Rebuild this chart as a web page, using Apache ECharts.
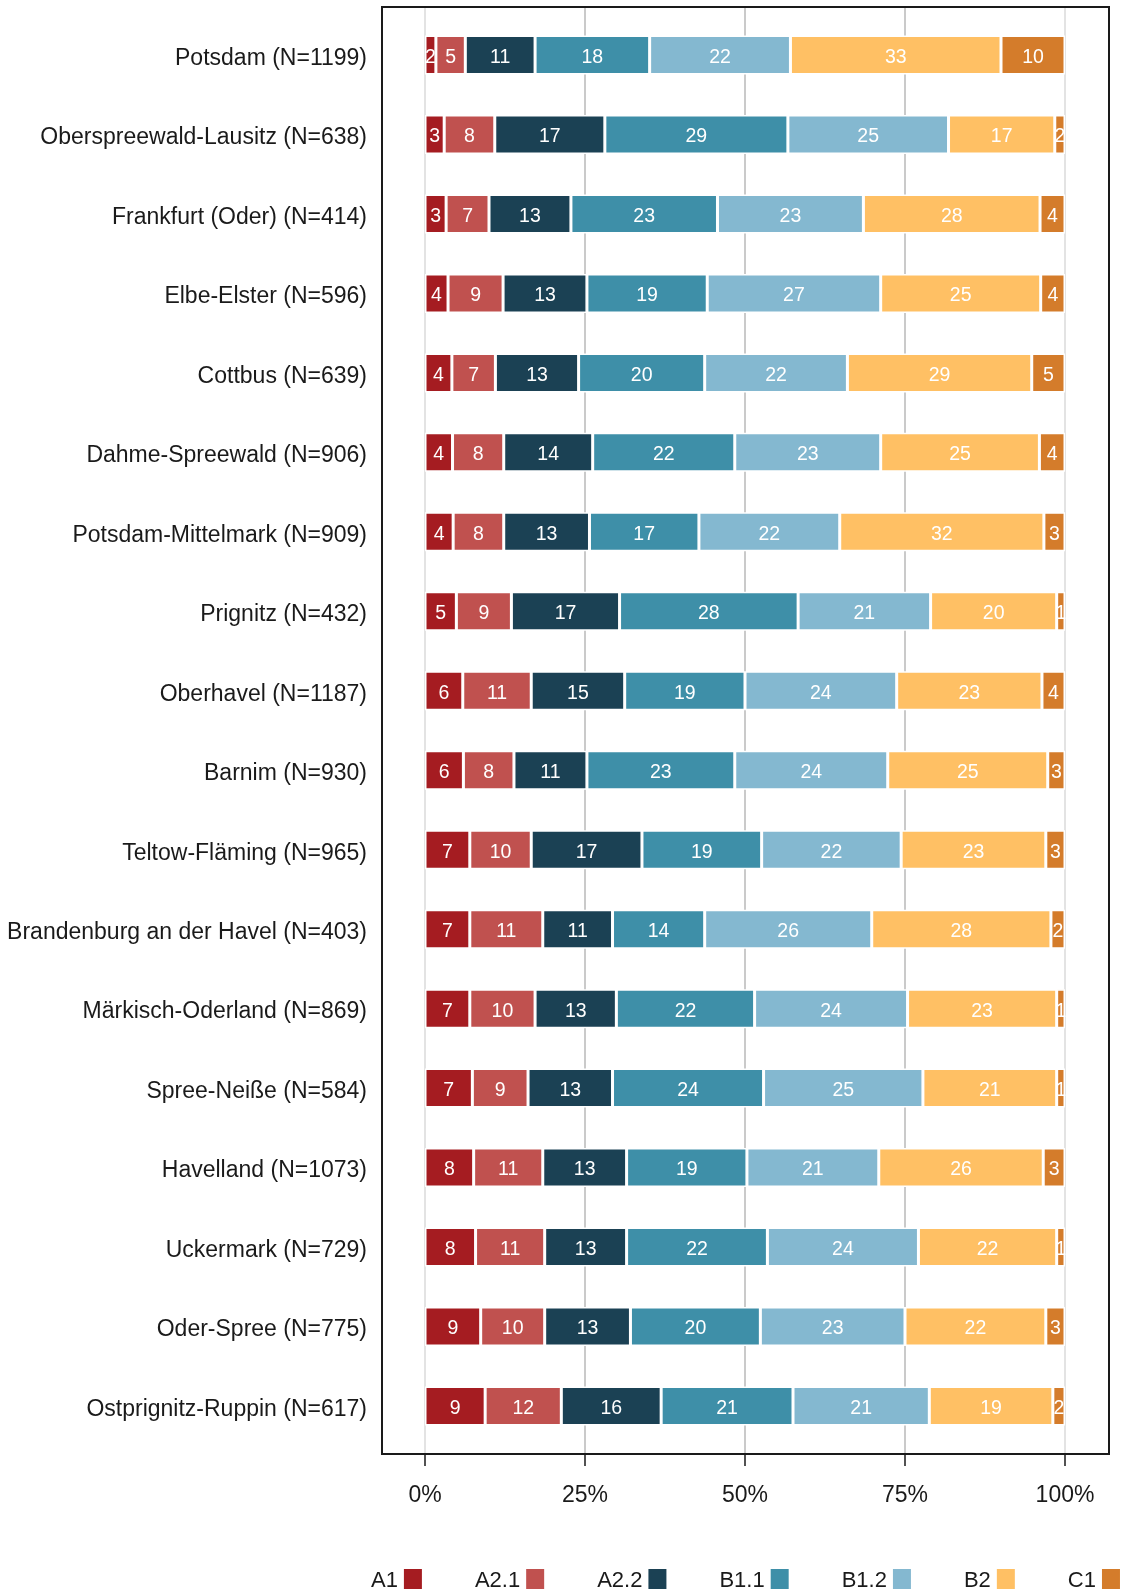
<!DOCTYPE html>
<html>
<head>
<meta charset="utf-8">
<script src="https://cdn.jsdelivr.net/npm/echarts@6/dist/echarts.min.js"></script>
<style>
html,body{margin:0;padding:0;background:#fff;}
#chart{width:1129px;height:1589px;}
</style>
</head>
<body>
<div id="chart"></div>
<script>
const categories = [
  'Potsdam (N=1199)', 'Oberspreewald-Lausitz (N=638)', 'Frankfurt (Oder) (N=414)',
  'Elbe-Elster (N=596)', 'Cottbus (N=639)', 'Dahme-Spreewald (N=906)',
  'Potsdam-Mittelmark (N=909)', 'Prignitz (N=432)', 'Oberhavel (N=1187)',
  'Barnim (N=930)', 'Teltow-Fläming (N=965)', 'Brandenburg an der Havel (N=403)',
  'Märkisch-Oderland (N=869)', 'Spree-Neiße (N=584)', 'Havelland (N=1073)',
  'Uckermark (N=729)', 'Oder-Spree (N=775)', 'Ostprignitz-Ruppin (N=617)'
];
const seriesNames = ['A1', 'A2.1', 'A2.2', 'B1.1', 'B1.2', 'B2', 'C1'];
const seriesColors = ['#a51c21', '#c0514f', '#1b4154', '#3e8fa8', '#84b8d0', '#ffc064', '#d47c2b'];
const A1   = [1.7, 3.0, 3.3, 3.6, 4.2, 4.3, 4.4, 4.9, 5.9, 6.0, 7.0, 7.0, 7.0, 7.4, 7.6, 7.9, 8.7, 9.4];
const A2_1 = [4.6, 7.9, 6.7, 8.6, 6.8, 8.0, 7.9, 8.6, 10.7, 7.9, 9.6, 11.4, 10.2, 8.7, 10.8, 10.8, 10.0, 11.9];
const A2_2 = [10.9, 17.2, 12.8, 13.1, 13.0, 13.9, 13.4, 16.9, 14.6, 11.4, 17.3, 10.9, 12.7, 13.2, 13.1, 12.8, 13.4, 15.6];
const B1_1 = [17.9, 28.6, 22.9, 18.8, 19.7, 22.2, 17.1, 27.9, 18.8, 23.1, 18.7, 14.4, 21.6, 23.6, 18.8, 22.0, 20.3, 20.6];
const B1_2 = [22.0, 25.1, 22.8, 27.1, 22.3, 22.8, 22.0, 20.7, 23.7, 23.9, 21.8, 26.1, 23.9, 24.9, 20.6, 23.6, 22.6, 21.3];
const B2   = [32.9, 16.6, 27.6, 25.0, 28.8, 24.8, 31.9, 19.7, 22.7, 25.0, 22.6, 28.0, 23.3, 20.9, 25.7, 21.6, 22.0, 19.3];
const C1   = [10.0, 1.6, 3.9, 3.8, 5.2, 4.0, 3.3, 1.3, 3.6, 2.7, 3.0, 2.2, 1.3, 1.3, 3.4, 1.3, 3.0, 1.9];
const seriesValues = [A1, A2_1, A2_2, B1_1, B1_2, B2, C1];

const FONT = 'Liberation Sans, Arial, sans-serif';
const chart = echarts.init(document.getElementById('chart'), null, {renderer: 'canvas'});

const series = seriesNames.map((name, i) => ({
  name: name,
  type: 'bar',
  stack: 'total',
  xAxisIndex: 1,
  yAxisIndex: 1,
  barWidth: 39,
  z: 3,
  data: seriesValues[i],
  itemStyle: {color: seriesColors[i], borderColor: '#ffffff', borderWidth: 1.5},
  label: {
    show: true,
    position: 'inside',
    offset: [0, 2.5],
    color: '#ffffff',
    fontSize: 19.5,
    fontFamily: FONT,
    formatter: p => String(Math.round(p.value))
  }
}));

const option = {
  animation: false,
  backgroundColor: '#ffffff',
  grid: [
    {left: 425, right: 64, top: 7, bottom: 135, show: false, containLabel: false},
    {left: 425, right: 64, top: 15.3, bottom: 143.3, show: false, containLabel: false},
    {left: 382, right: 20, top: 7, bottom: 135, show: true, borderColor: '#1a1a1a', borderWidth: 2, backgroundColor: 'transparent', z: 5}
  ],
  xAxis: [
    {
      gridIndex: 0, type: 'value', min: 0, max: 100, interval: 25, position: 'bottom',
      axisLine: {show: false},
      axisTick: {show: true, length: 12, lineStyle: {color: '#1a1a1a', width: 1.5}},
      axisLabel: {fontSize: 23, color: '#1a1a1a', fontFamily: FONT, margin: 30, formatter: v => v + '%'},
      splitLine: {show: true, lineStyle: {color: ['#dcdcdc', '#bdbdbd', '#bdbdbd', '#bdbdbd', '#dcdcdc'], width: 1.6}}
    },
    {gridIndex: 1, type: 'value', min: 0, max: 100, show: false, splitLine: {show: false}},
    {gridIndex: 2, type: 'value', min: 0, max: 1, show: false, splitLine: {show: false}}
  ],
  yAxis: [
    {gridIndex: 0, type: 'value', min: 0, max: 1, show: false, splitLine: {show: false}},
    {
      gridIndex: 1, type: 'category', data: categories, inverse: true,
      axisLine: {show: false}, axisTick: {show: false},
      axisLabel: {fontSize: 23, color: '#1a1a1a', fontFamily: FONT, margin: 58, verticalAlign: 'top', lineHeight: 7}
    },
    {gridIndex: 2, type: 'value', min: 0, max: 1, show: false, splitLine: {show: false}}
  ],
  legend: {
    data: seriesNames,
    orient: 'horizontal',
    left: 366,
    top: 1562,
    width: 760,
    align: 'right',
    icon: 'rect',
    itemWidth: 20,
    itemHeight: 26,
    itemGap: 51,
    selectedMode: false,
    textStyle: {fontSize: 22, color: '#1a1a1a', fontFamily: FONT}
  },
  series: series
};
chart.setOption(option);
</script>
</body>
</html>
